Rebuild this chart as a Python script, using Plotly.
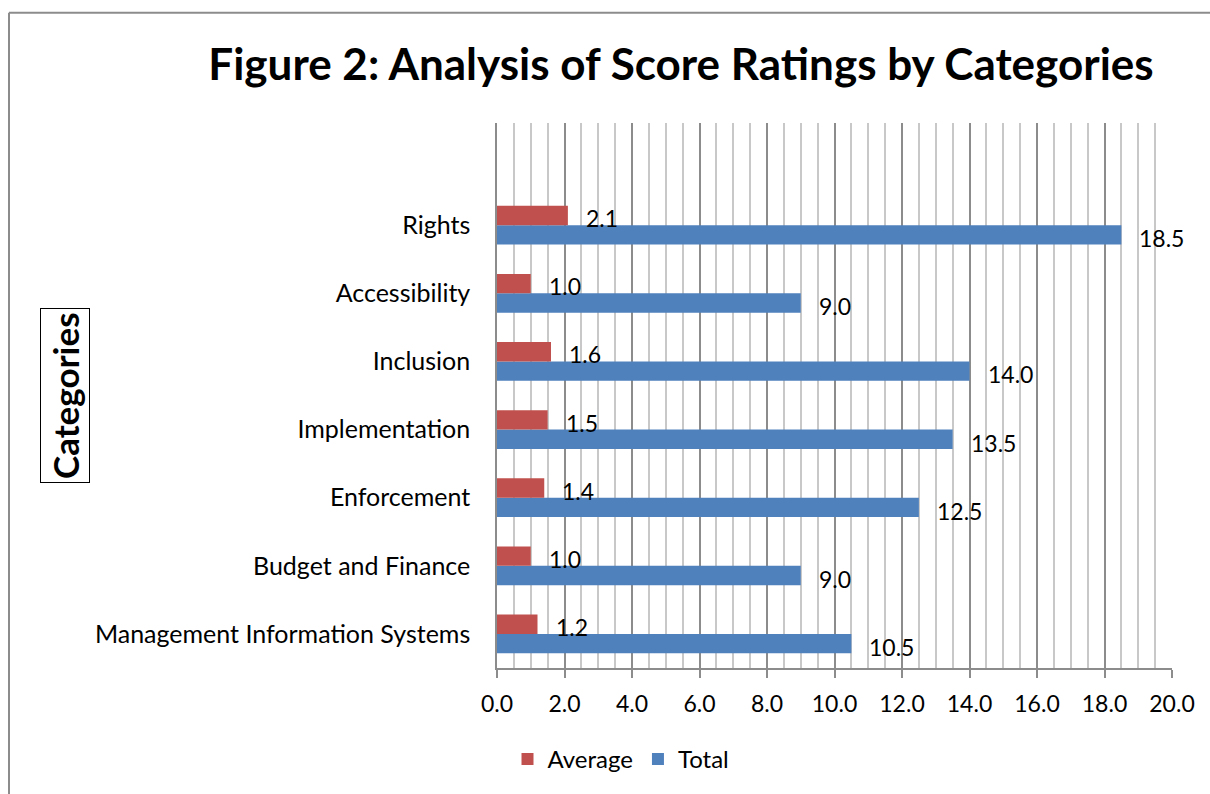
import plotly.graph_objects as go

categories = ["Management Information Systems", "Budget and Finance", "Enforcement",
              "Implementation", "Inclusion", "Accessibility", "Rights"]
average = [1.2, 1.0, 1.4, 1.5, 1.6, 1.0, 2.1]
total = [10.5, 9.0, 12.5, 13.5, 14.0, 9.0, 18.5]
x_ticks = [0, 2, 4, 6, 8, 10, 12, 14, 16, 18, 20]

RED = "#C0504D"
BLUE = "#4F81BD"
FONT = "Lato, 'Open Sans', sans-serif"

# body margin is removed below, so page pixels == figure pixels
W, H = 1210, 794
PL, PR, PT, PB = 497, 1172, 123, 672  # plot area in page pixels
L, R, T, B = PL, W - PR, PT, H - PB
pw, ph = W - L - R, H - T - B


def px(x):
    return (x - PL) / pw


def py(y):
    return (PB - y) / ph


fig = go.Figure()
fig.add_trace(go.Bar(y=categories, x=total, name="Total", orientation="h",
                     marker=dict(color=BLUE, line=dict(width=0))))
fig.add_trace(go.Bar(y=categories, x=average, name="Average", orientation="h",
                     marker=dict(color=RED, line=dict(width=0))))

annotations = []
for c, a, t in zip(categories, average, total):
    annotations.append(dict(x=a, y=c, xref="x", yref="y", text=f"{a:.1f}", showarrow=False,
                            xanchor="left", yanchor="middle", xshift=16, yshift=7,
                            font=dict(size=23, color="black", family=FONT)))
    annotations.append(dict(x=t, y=c, xref="x", yref="y", text=f"{t:.1f}", showarrow=False,
                            xanchor="left", yanchor="middle", xshift=16, yshift=-13,
                            font=dict(size=23, color="black", family=FONT)))

annotations.append(dict(x=px(65), y=py(398), xref="paper", yref="paper",
                        text="<b>Categories</b>", showarrow=False, textangle=-90,
                        xanchor="center", yanchor="middle",
                        font=dict(size=35, color="black", family=FONT),
                        bordercolor="black", borderwidth=1, borderpad=3))

fig.update_layout(
    width=W, height=H,
    margin=dict(l=L, r=R, t=T, b=B, pad=0),
    paper_bgcolor="white", plot_bgcolor="white",
    barmode="group", bargap=0.43, bargroupgap=0,
    font=dict(family=FONT, size=23, color="black"),
    title=dict(text="<b>Figure 2: Analysis of Score Ratings by Categories</b>",
               x=px(681), xref="paper", xanchor="center",
               y=1 - 65 / H, yanchor="middle",
               font=dict(size=44, color="black", family=FONT)),
    xaxis=dict(range=[0, 20], tickvals=x_ticks, ticktext=[f"{v:.1f}" for v in x_ticks],
               showgrid=True, gridcolor="#8C8C8C", gridwidth=1.5,
               minor=dict(dtick=0.5, showgrid=True, gridcolor="#C8C8C8", gridwidth=1.5),
               ticks="outside", ticklen=8, tickcolor="#8C8C8C", tickwidth=1.5,
               showline=True, linecolor="#8C8C8C", linewidth=1.5,
               ticklabelposition="outside", ticklabelstandoff=7,
               zeroline=False, tickfont=dict(size=23, family=FONT), fixedrange=True),
    yaxis=dict(type="category", categoryorder="array", categoryarray=categories,
               range=[-0.5, 7.5], showgrid=False, showline=True, linecolor="#8C8C8C",
               linewidth=1.5, ticks="", ticklabelstandoff=20,
               tickfont=dict(size=25, family=FONT)),
    legend=dict(orientation="h", x=px(621), xanchor="center",
                y=py(764), yanchor="middle",
                traceorder="reversed", font=dict(size=24, family=FONT),
                itemwidth=30),
    showlegend=True,
    annotations=annotations,
    shapes=[
        dict(type="line", xref="paper", yref="paper", x0=px(9), x1=px(1230),
             y0=py(12), y1=py(12), line=dict(color="#8C8C8C", width=2), layer="below"),
        dict(type="line", xref="paper", yref="paper", x0=px(9), x1=px(9),
             y0=py(12), y1=py(820), line=dict(color="#8C8C8C", width=2), layer="below"),
    ],
)

fig.write_html("out.html", config={"displayModeBar": False},
               post_script="document.body.style.margin='0';document.body.style.overflow='hidden';")
